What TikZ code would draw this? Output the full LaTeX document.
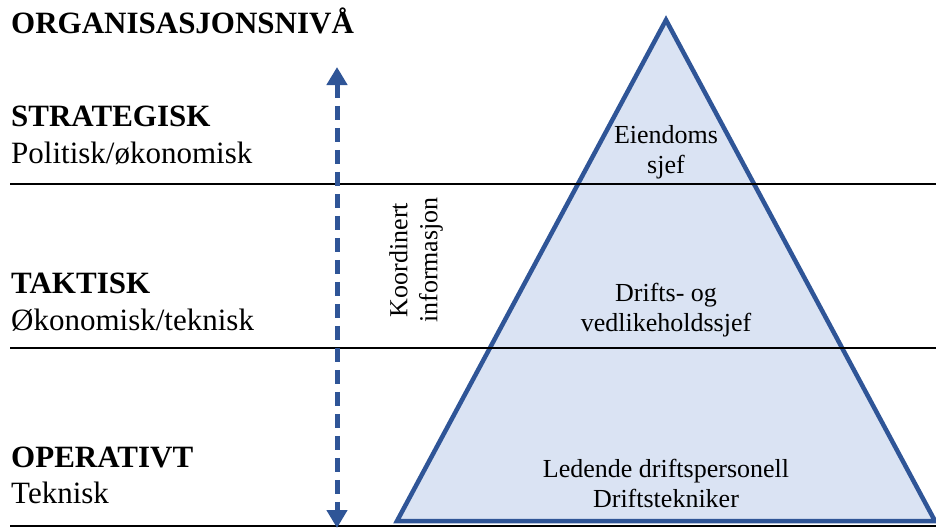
\documentclass[tikz,border=0pt]{standalone}
\usepackage{fontspec}
\setmainfont{Liberation Serif}
\usetikzlibrary{arrows.meta}
\definecolor{pyrfill}{HTML}{DAE3F3}
\definecolor{pyrline}{HTML}{2F5597}
\begin{document}
\begin{tikzpicture}[x=1pt,y=-1pt,
  levelhead/.style={anchor=base west,inner sep=0pt,font=\fontsize{31}{36}\selectfont\bfseries},
  levelsub/.style={anchor=base west,inner sep=0pt,font=\fontsize{31}{36}\selectfont},
  roletext/.style={align=center,inner sep=0pt,font=\fontsize{26}{30}\selectfont},
  divider/.style={line width=2pt,black},
  pyramid/.style={line width=4.5pt,draw=pyrline,fill=pyrfill,line join=miter},
  infoarrow/.style={line width=5pt,pyrline,dash pattern=on 14pt off 8pt,
    {Triangle[width=20pt,length=18pt]}-{Triangle[width=20pt,length=18pt]}}]
\useasboundingbox (0,0) rectangle (936,528);

% pyramid
\coordinate (apex) at (666,20);
\coordinate (baseL) at (397,521);
\coordinate (baseR) at (935,521);
\draw[pyramid] (apex) -- (baseR) -- (baseL) -- cycle;

% level dividers
\coordinate (d1L) at (10,184);  \coordinate (d1R) at (936,184);
\coordinate (d2L) at (10,348);  \coordinate (d2R) at (936,348);
\coordinate (d3L) at (10,526);  \coordinate (d3R) at (936,526);
\draw[divider] (d1L) -- (d1R);
\draw[divider] (d2L) -- (d2R);
\draw[divider] (d3L) -- (d3R);

% information arrow
\coordinate (arrTop) at (337,67);
\coordinate (arrBot) at (337,528);
\draw[infoarrow] (arrTop) -- (arrBot);
\node[roletext,rotate=90] (info) at (416,260) {Koordinert\\informasjon};

% left column
\node[levelhead] (title) at (11,33) {ORGANISASJONSNIVÅ};
\node[levelhead] (strat) at (11,126) {STRATEGISK};
\node[levelsub] (stratsub) at (11,163) {Politisk/økonomisk};
\node[levelhead] (takt) at (11,293) {TAKTISK};
\node[levelsub] (taktsub) at (11,330) {Økonomisk/teknisk};
\node[levelhead] (oper) at (11,467) {OPERATIVT};
\node[levelsub] (opersub) at (11,503) {Teknisk};

% roles inside the pyramid
\node[roletext] (role1) at (666,152) {Eiendoms\\sjef};
\node[roletext] (role2) at (666,310) {Drifts- og\\vedlikeholdssjef};
\node[roletext] (role3) at (666,483) {Ledende driftspersonell\\Driftstekniker};
\end{tikzpicture}
\end{document}
